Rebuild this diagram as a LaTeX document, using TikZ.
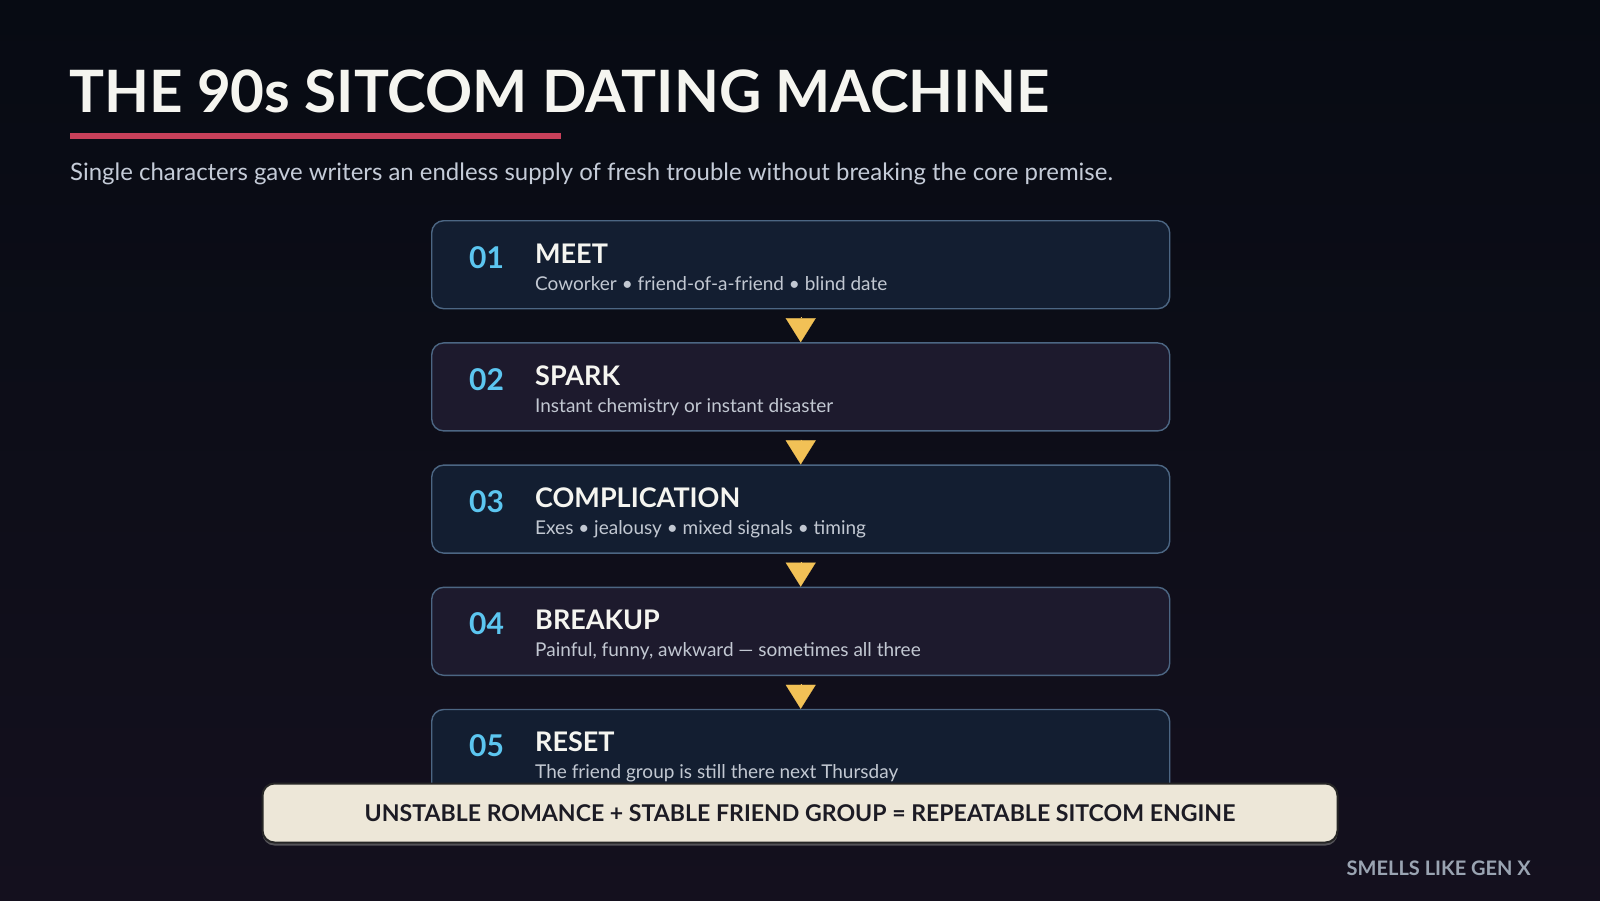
\documentclass[tikz,border=0pt]{standalone}
\usepackage{fontspec}
\setmainfont{Lato}
\usetikzlibrary{positioning,arrows.meta,shadows}

\definecolor{bgtop}{HTML}{070B13}
\definecolor{bgbot}{HTML}{14101E}
\definecolor{titlewhite}{HTML}{F5F5F0}
\definecolor{barred}{HTML}{C8405A}
\definecolor{subgrey}{HTML}{C5CCD8}
\definecolor{boxodd}{HTML}{131E31}
\definecolor{boxeven}{HTML}{1D1A2D}
\definecolor{boxedge}{HTML}{4C6683}
\definecolor{numblue}{HTML}{5CC6F0}
\definecolor{stepgrey}{HTML}{C2C8D2}
\definecolor{arrowyellow}{HTML}{F2C156}
\definecolor{bannercream}{HTML}{EDE7D8}
\definecolor{bannerink}{HTML}{1C1B24}
\definecolor{footgrey}{HTML}{9AA4B2}

\begin{document}
\begin{tikzpicture}[x=1pt,y=-1pt,
    stagebox/.style={draw=boxedge, line width=1.4pt, rounded corners=12pt,
      minimum width=738pt, minimum height=88pt, inner sep=0pt, anchor=north west},
    numtext/.style={anchor=base west, inner sep=0pt, text=numblue,
      font=\bfseries\fontsize{30}{36}\selectfont},
    headtext/.style={anchor=base west, inner sep=0pt, text=titlewhite,
      font=\bfseries\fontsize{27}{32}\selectfont},
    steptext/.style={anchor=base west, inner sep=0pt, text=stepgrey,
      font=\fontsize{19}{23}\selectfont},
    flowarrow/.style={-{Triangle[width=30pt,length=24pt]}, line width=0.1pt,
      draw=arrowyellow, fill=arrowyellow, shorten <=8pt}]

    % Background
    \shade[top color=bgtop, bottom color=bgbot] (0,0) rectangle (1600,900);
    \useasboundingbox (0,0) rectangle (1600,900);

    % Title, red bar and subtitle
    \node[anchor=base west, inner sep=0pt, text=titlewhite,
      font=\bfseries\fontsize{58.4}{68}\selectfont] (title) at (69,112) {THE 90s SITCOM DATING MACHINE};
    \fill[barred] (70,133) rectangle (561,139);
    \node[anchor=base west, inner sep=0pt, text=subgrey,
      font=\fontsize{23.95}{28}\selectfont] (subtitle) at (70,180)
      {Single characters gave writers an endless supply of fresh trouble without breaking the core premise.};

    % Stage boxes
    \node[stagebox, fill=boxodd] (s1) at (431,220) {};
    \node[stagebox, fill=boxeven, below=32.8pt of s1] (s2) {};
    \node[stagebox, fill=boxodd, below=32.8pt of s2] (s3) {};
    \node[stagebox, fill=boxeven, below=32.8pt of s3] (s4) {};
    \node[stagebox, fill=boxodd, below=32.8pt of s4] (s5) {};

    % Stage texts
    \node[numtext] (n1) at ([shift={(38,48)}]s1.north west) {01};
    \node[headtext] (h1) at ([shift={(104,43)}]s1.north west) {MEET};
    \node[steptext] (t1) at ([shift={(104,70)}]s1.north west) {Coworker • friend-of-a-friend • blind date};

    \node[numtext] (n2) at ([shift={(38,48)}]s2.north west) {02};
    \node[headtext] (h2) at ([shift={(104,43)}]s2.north west) {SPARK};
    \node[steptext] (t2) at ([shift={(104,70)}]s2.north west) {Instant chemistry or instant disaster};

    \node[numtext] (n3) at ([shift={(38,48)}]s3.north west) {03};
    \node[headtext] (h3) at ([shift={(104,43)}]s3.north west) {COMPLICATION};
    \node[steptext] (t3) at ([shift={(104,70)}]s3.north west) {Exes • jealousy • mixed signals • timing};

    \node[numtext] (n4) at ([shift={(38,48)}]s4.north west) {04};
    \node[headtext] (h4) at ([shift={(104,43)}]s4.north west) {BREAKUP};
    \node[steptext] (t4) at ([shift={(104,70)}]s4.north west) {Painful, funny, awkward — sometimes all three};

    \node[numtext] (n5) at ([shift={(38,48)}]s5.north west) {05};
    \node[headtext] (h5) at ([shift={(104,43)}]s5.north west) {RESET};
    \node[steptext] (t5) at ([shift={(104,70)}]s5.north west) {The friend group is still there next Thursday};

    % Arrows between stages
    \draw[flowarrow] (s1.south) -- (s2.north);
    \draw[flowarrow] (s2.south) -- (s3.north);
    \draw[flowarrow] (s3.south) -- (s4.north);
    \draw[flowarrow] (s4.south) -- (s5.north);

    % Bottom banner
    \node[fill=bannercream, draw=black!85, line width=2pt, rounded corners=12pt,
      minimum width=1075pt, minimum height=59pt, inner sep=0pt, text=bannerink,
      drop shadow={shadow xshift=0pt, shadow yshift=-3pt, opacity=0.6},
      font=\bfseries\fontsize{23.1}{28}\selectfont] (banner) at (800,813)
      {UNSTABLE ROMANCE + STABLE FRIEND GROUP = REPEATABLE SITCOM ENGINE};

    % Footer
    \node[anchor=base east, inner sep=0pt, text=footgrey,
      font=\bfseries\fontsize{20}{24}\selectfont] (footer) at (1531,875) {SMELLS LIKE GEN X};

\end{tikzpicture}
\end{document}
